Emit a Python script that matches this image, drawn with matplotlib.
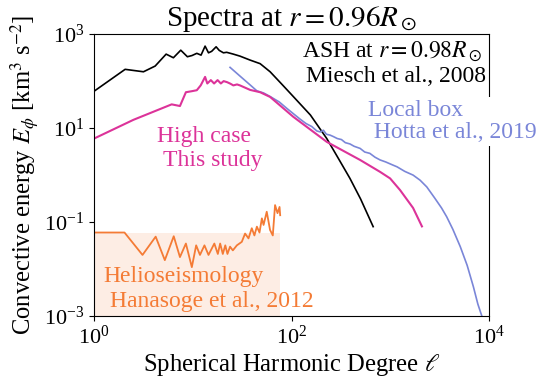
import matplotlib
matplotlib.use('Agg')
import matplotlib.pyplot as plt

plt.rcParams['font.family'] = 'serif'
plt.rcParams['font.serif'] = ['Liberation Serif', 'DejaVu Serif']
plt.rcParams['mathtext.fontset'] = 'stix'

# ASH (Miesch et al., 2008)
ash_l = [1, 2.06, 3.16, 4.15, 5.36, 6.35, 7.54, 8.8, 9.8, 10.96, 12.1, 13.3, 14.4, 15.5,
         17.2, 18.5, 20.4, 22, 25.7, 30, 38, 48, 60.6, 80, 104, 155, 227, 300, 390, 500, 670]
ash_e = [61, 178, 158, 209, 375, 314, 455, 330, 350, 390, 357, 555, 400, 430,
         537, 450, 400, 410, 375, 340, 280, 235, 158, 85, 47, 19, 6.0, 2.2, 0.85, 0.31, 0.08]

# High case (this study)
high_l = [1, 2.5, 6.1, 7.4, 8.5, 9.76, 10.96, 12.0, 13.3, 14.0, 15.2, 16.4, 17.8, 19.2,
          20.5, 22.2, 24, 25.7, 28, 30, 38, 48, 60.6, 104, 227, 494, 788, 995, 1255,
          1700, 2090]
high_e = [6, 15, 32, 29.5, 58, 61, 64, 81, 123, 89, 105, 89, 105, 89,
          100, 95, 88, 81, 85, 81, 65, 58, 46, 17.4, 5.1, 2.1, 1.17, 0.85, 0.48,
          0.20, 0.081]

# Local box (Hotta et al., 2019)
box_l = [23.8, 30, 38, 44.5, 52, 60.6, 75, 90, 105, 122, 140, 160, 180, 195, 210, 225,
         245, 265, 290, 320, 350, 390, 430, 494, 550, 620, 700, 788, 900, 1050, 1170,
         1400, 1700, 2000, 2340, 2800, 3300, 3720, 4300, 5110, 6000, 6940, 7700, 8450]
box_e = [196, 128, 83, 62, 56, 47, 36, 26, 20, 15.5, 12.5, 10.8, 8.7, 8.3, 9.0, 7.4,
         7.1, 6.6, 6.0, 5.7, 4.9, 4.6, 4.1, 3.7, 3.1, 2.9, 2.4, 2.1, 1.9, 1.65, 1.5,
         1.2, 1.0, 0.78, 0.56, 0.33, 0.2, 0.13, 0.07, 0.03, 0.012, 0.0042, 0.0018, 0.001]

# Helioseismology (Hanasoge et al., 2012)
hel_l = [1, 2.03, 3.09, 4.2, 5.2, 6.4, 7.4, 8.5, 9.76, 10.8, 11.8, 13.1, 14.4, 16.5, 17.9,
         18.9, 20.1, 21.3, 22.4, 23.8, 25.4, 27.9, 31.3, 33.8, 36.6, 39.5, 42, 44.5,
         47.3, 50, 52, 56, 60.5, 64.5, 68, 72, 75.5, 76.6]
hel_e = [0.060, 0.060, 0.020, 0.049, 0.0155, 0.050, 0.018, 0.035, 0.011, 0.032, 0.020,
         0.032, 0.020, 0.035, 0.021, 0.035, 0.021, 0.032, 0.021, 0.030, 0.025, 0.032,
         0.038, 0.057, 0.045, 0.074, 0.052, 0.080, 0.060, 0.12, 0.087, 0.166, 0.068,
         0.052, 0.23, 0.155, 0.21, 0.14]

c_ash = 'black'
c_high = '#dc3399'
c_box = '#7a86d8'
c_hel = '#f47b35'

fig = plt.figure(figsize=(5.41, 3.79), dpi=100)
ax = fig.add_axes([0.174, 0.166, 0.730, 0.744])

ax.fill_between([hel_l[0], hel_l[-1]], 1e-3, hel_e[0], color=c_hel, alpha=0.13, lw=0)
ax.plot(hel_l, hel_e, color=c_hel, lw=1.3)
ax.plot(ash_l, ash_e, color=c_ash, lw=1.2)
ax.plot(box_l, box_e, color=c_box, lw=1.2)
ax.plot(high_l, high_e, color=c_high, lw=1.5)

ax.set_xscale('log')
ax.set_yscale('log')
ax.set_xlim(1, 1e4)
ax.set_ylim(1e-3, 1e3)
ax.set_xticks([1, 1e2, 1e4])
ax.set_yticks([1e-3, 1e-1, 1e1, 1e3])
ax.minorticks_off()
ax.tick_params(labelsize=16)

ax.set_title(r'Spectra at $r=0.96R_\odot$', fontsize=21, pad=6)
ax.set_xlabel(r'Spherical Harmonic Degree $\ell$', fontsize=17.7, labelpad=2)
ax.set_ylabel(r'Convective energy $E_\phi$ [km$^3$ s$^{-2}$]', fontsize=17.7, labelpad=2)

fs = 17
ax.text(0.527, 0.918, r'ASH at $r=0.98R_\odot$', transform=ax.transAxes,
        ha='left', va='baseline', fontsize=fs, color=c_ash)
ax.text(0.537, 0.830, 'Miesch et al., 2008', transform=ax.transAxes,
        ha='left', va='baseline', fontsize=fs, color=c_ash)
ax.text(0.694, 0.631, 'Local box\n Hotta et al., 2019', transform=ax.transAxes,
        ha='left', va='baseline', fontsize=fs, color=c_box, linespacing=1.06,
        bbox=dict(facecolor='white', edgecolor='none', pad=2), zorder=5, clip_on=False)
ax.text(0.159, 0.617, 'High case', transform=ax.transAxes,
        ha='left', va='baseline', fontsize=fs, color=c_high)
ax.text(0.175, 0.532, 'This study', transform=ax.transAxes,
        ha='left', va='baseline', fontsize=fs, color=c_high)
ax.text(0.023, 0.121, 'Helioseismology', transform=ax.transAxes,
        ha='left', va='baseline', fontsize=fs, color=c_hel)
ax.text(0.041, 0.032, 'Hanasoge et al., 2012', transform=ax.transAxes,
        ha='left', va='baseline', fontsize=fs, color=c_hel)

fig.savefig('out.png', dpi=100)
